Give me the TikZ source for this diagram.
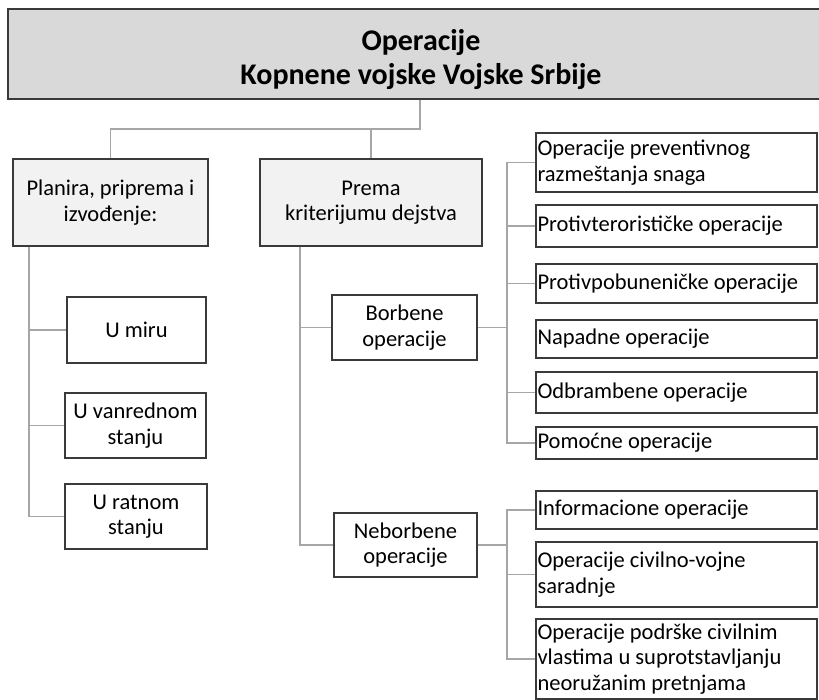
\documentclass[tikz,border=0pt]{standalone}
\usepackage{fontspec}
\setmainfont{Carlito}
\definecolor{boxc}{HTML}{3A3A3A}
\definecolor{connc}{HTML}{A6A6A6}
\definecolor{titlefill}{HTML}{D9D9D9}
\definecolor{subfill}{HTML}{F2F2F2}
\begin{document}
\begin{tikzpicture}[x=1pt,y=-1pt,
  box/.style={draw=boxc, line width=1.4pt, inner sep=0pt, fill=white,
    font=\fontsize{22.5}{25.5}\selectfont},
  cbox/.style={box, align=center},
  lbox/.style={box, minimum width=281pt, text width=278pt, inner xsep=1.5pt, align=flush left, anchor=center},
  conn/.style={draw=connc, line width=1.3pt}]
\clip (0,0) rectangle (819,700);
\fill[white] (0,0) rectangle (819,700);
% title
\node[box, fill=titlefill, minimum width=826pt, minimum height=90pt] (title) at (421,54) {};
\node[font=\fontsize{30}{33.5}\selectfont\bfseries, align=center, inner sep=0pt] (titletext) at (421,59.5) {Operacije\\Kopnene vojske Vojske Srbije};
% second level
\node[cbox, fill=subfill, minimum width=195pt, minimum height=87pt] (plan) at (110.5,202.5) {Planira, priprema i\\izvođenje:};
\node[cbox, fill=subfill, minimum width=222pt, minimum height=87pt] (prema) at (371,202.5) {Prema\\kriterijumu dejstva};
% left column
\node[cbox, minimum width=139pt, minimum height=66pt] (miru) at (136.5,330) {U miru};
\node[cbox, minimum width=141pt, minimum height=65pt] (vanr) at (135.5,425.5) {U vanrednom\\stanju};
\node[cbox, minimum width=142pt, minimum height=65pt] (ratn) at (136,516.5) {U ratnom\\stanju};
% middle column
\node[cbox, minimum width=145pt, minimum height=65pt] (borb) at (404.5,327.5) {Borbene\\operacije};
\node[cbox, minimum width=143pt, minimum height=64pt] (nebo) at (405.5,545) {Neborbene\\operacije};
% right column
\node[lbox, minimum height=59pt] (r1) at (676.5,162.5) {Operacije preventivnog\\razmeštanja snaga};
\node[lbox, minimum height=42pt] (r2) at (676.5,226) {Protivteroristi\v{c}ke operacije};
\node[lbox, minimum height=39pt] (r3) at (676.5,283.5) {Protivpobuneni\v{c}ke operacije};
\node[lbox, minimum height=38pt] (r4) at (676.5,339) {Napadne operacije};
\node[lbox, minimum height=41pt] (r5) at (676.5,392.5) {Odbrambene operacije};
\node[lbox, minimum height=32pt] (r6) at (676.5,443) {Pomoćne operacije};
\node[lbox, minimum height=38pt] (r7) at (676.5,510) {Informacione operacije};
\node[lbox, minimum height=65pt] (r8) at (676.5,574.5) {Operacije civilno-vojne\\saradnje};
\node[lbox, minimum height=80pt] (r9) at (676.5,659) {Operacije podrške civilnim\\vlastima u suprotstavljanju\\neoružanim pretnjama};
% connector helpers
\coordinate (ta) at (420,129);
\coordinate (lt) at (29,0);
\coordinate (rt) at (300,0);
\coordinate (bus) at (507,0);
% connectors
\draw[conn] (title.south -| ta) -- (ta) -| (plan.north);
\draw[conn] (ta) -| (prema.north);
\draw[conn] (plan.south -| lt) |- (miru.west);
\draw[conn] (plan.south -| lt) |- (vanr.west);
\draw[conn] (plan.south -| lt) |- (ratn.west);
\draw[conn] (prema.south -| rt) |- (borb.west);
\draw[conn] (prema.south -| rt) |- (nebo.west);
\draw[conn] (borb.east) -- (borb.east -| bus);
\draw[conn] (r1.west) -| (borb.east -| bus);
\draw[conn] (r6.west) -| (borb.east -| bus);
\draw[conn] (r2.west) -- (r2.west -| bus);
\draw[conn] (r3.west) -- (r3.west -| bus);
\draw[conn] (r5.west) -- (r5.west -| bus);
\draw[conn] (nebo.east) -- (nebo.east -| bus);
\draw[conn] (r7.west) -| (nebo.east -| bus);
\draw[conn] (r8.west) -- (r8.west -| bus);
\draw[conn] (r9.west) -| (nebo.east -| bus);
\end{tikzpicture}
\end{document}
